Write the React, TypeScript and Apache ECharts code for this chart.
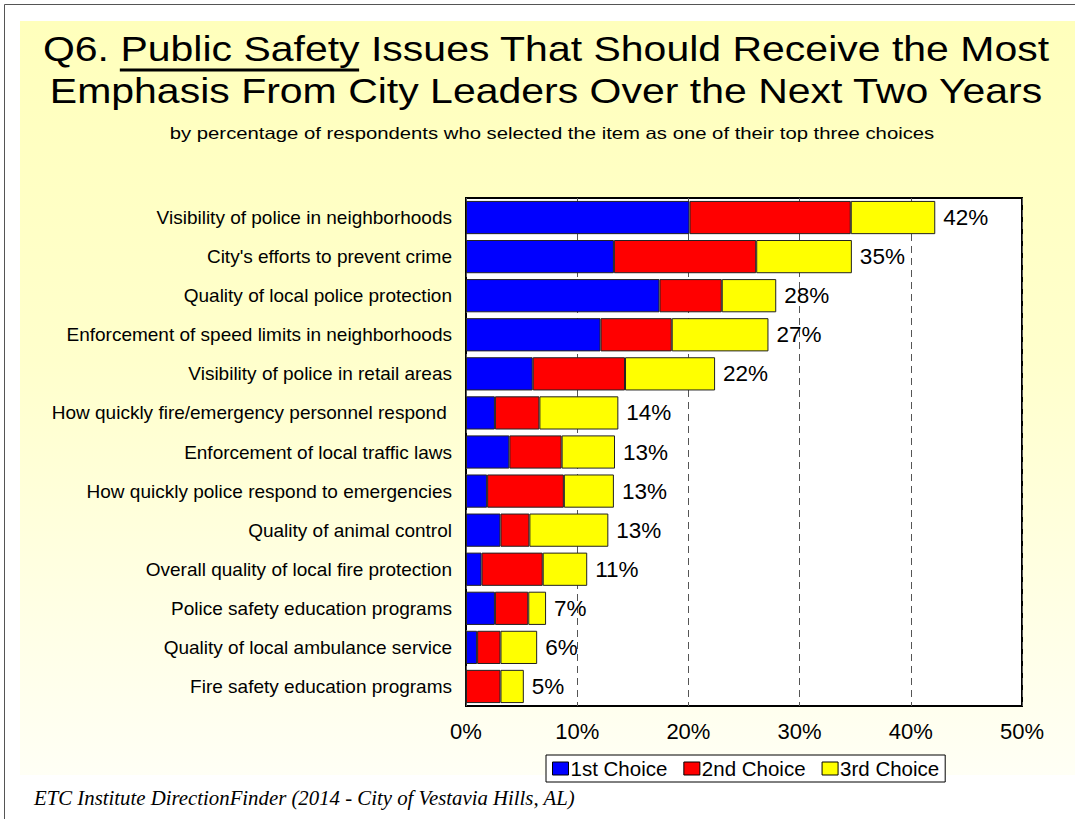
import React, { useEffect, useRef } from "react";
import * as echarts from "echarts";

const categories = [
  "Visibility of police in neighborhoods",
  "City's efforts to prevent crime",
  "Quality of local police protection",
  "Enforcement of speed limits in neighborhoods",
  "Visibility of police in retail areas",
  "How quickly fire/emergency personnel respond ",
  "Enforcement of local traffic laws",
  "How quickly police respond to emergencies",
  "Quality of animal control",
  "Overall quality of local fire protection",
  "Police safety education programs",
  "Quality of local ambulance service",
  "Fire safety education programs",
];
const firstChoice = [20.1, 13.3, 17.4, 12.1, 6.0, 2.6, 3.9, 1.9, 3.1, 1.4, 2.6, 1.0, 0];
const secondChoice = [14.5, 12.8, 5.6, 6.4, 8.3, 4.0, 4.7, 6.9, 2.6, 5.5, 3.0, 2.1, 3.1];
const thirdChoice = [7.6, 8.6, 4.9, 8.7, 8.1, 7.1, 4.8, 4.5, 7.1, 4.0, 1.6, 3.3, 2.1];
const totalLabels = ["42%", "35%", "28%", "27%", "22%", "14%", "13%", "13%", "13%", "11%", "7%", "6%", "5%"];
const seriesNames = ["1st Choice", "2nd Choice", "3rd Choice"];
const seriesColors = ["#0000FF", "#FF0000", "#FFFF00"];

const titlePrefix = "Q6. ";
const titleUnderlined = "Public Safety";
const titleRest = " Issues That Should Receive the Most";
const titleLine2 = "Emphasis From City Leaders Over the Next Two Years";
const subtitle = "by percentage of respondents who selected the item as one of their top three choices";
const footnote = "ETC Institute DirectionFinder (2014 - City of Vestavia Hills, AL)";

const SANS = '"Liberation Sans", Arial, sans-serif';

function measure(text: string, font: string): number {
  const c = document.createElement("canvas");
  const ctx = c.getContext("2d");
  if (!ctx) return text.length * 20;
  ctx.font = font;
  return ctx.measureText(text).width;
}

export default function App() {
  const ref = useRef<HTMLDivElement>(null);
  useEffect(() => {
    document.body.style.margin = "0";
    if (!ref.current) return;
    const chart = echarts.init(ref.current, undefined, { renderer: "svg" });

    const tSize = 35;
    const tScale = 41 / 35;
    const tFont = `${tSize}px "Liberation Sans"`;
    const full = titlePrefix + titleUnderlined + titleRest;
    const fullW = measure(full, tFont) * tScale;
    const preW = measure(titlePrefix, tFont) * tScale;
    const ulW = measure(titleUnderlined, tFont) * tScale;
    const tCenter = 546;
    const x0 = tCenter - fullW / 2;

    const datas = [firstChoice, secondChoice, thirdChoice];

    const option: any = {
      animation: false,
      backgroundColor: "#FFFFFF",
      graphic: [
        {
          type: "rect",
          z: -20,
          silent: true,
          shape: { x: 20, y: 21, width: 1060, height: 754 },
          style: {
            fill: new echarts.graphic.LinearGradient(0, 0, 0, 1, [
              { offset: 0, color: "#FFFFBC" },
              { offset: 0.45, color: "#FFFFCC" },
              { offset: 1, color: "#FFFFF5" },
            ]),
          },
        },
        {
          type: "rect",
          z: -19,
          silent: true,
          shape: { x: 4.5, y: 4.5, width: 1090, height: 840 },
          style: { fill: "none", stroke: "#555", lineWidth: 1 },
        },
        {
          type: "text",
          x: tCenter,
          y: 49.5,
          scaleX: tScale,
          style: {
            text: full,
            font: `${tSize}px ${SANS}`,
            fill: "#000",
            align: "center",
            verticalAlign: "middle",
          },
        },
        {
          type: "line",
          shape: { x1: x0 + preW, y1: 70, x2: x0 + preW + ulW, y2: 70 },
          style: { stroke: "#000", lineWidth: 3 },
        },
        {
          type: "text",
          x: tCenter,
          y: 91,
          scaleX: tScale,
          style: {
            text: titleLine2,
            font: `${tSize}px ${SANS}`,
            fill: "#000",
            align: "center",
            verticalAlign: "middle",
          },
        },
        {
          type: "text",
          x: 552,
          y: 133,
          scaleX: 1.23,
          style: {
            text: subtitle,
            font: `16.5px ${SANS}`,
            fill: "#000",
            align: "center",
            verticalAlign: "middle",
          },
        },
        {
          type: "text",
          x: 34,
          y: 797,
          style: {
            text: footnote,
            font: `italic 20.8px "Liberation Serif", "Times New Roman", serif`,
            fill: "#000",
            align: "left",
            verticalAlign: "middle",
          },
        },
      ],
      legend: {
        data: seriesNames,
        left: 546,
        top: 755,
        orient: "horizontal",
        itemWidth: 16,
        itemHeight: 13,
        itemGap: 16,
        padding: [3, 6, 3, 6],
        backgroundColor: "#FFFFFF",
        borderColor: "#000",
        borderWidth: 1,
        borderRadius: 0,
        icon: "rect",
        itemStyle: { borderColor: "#000", borderWidth: 1 },
        textStyle: { fontFamily: SANS, fontSize: 20.5, color: "#000", padding: [0, 0, 0, -3] },
        selectedMode: false,
      },
      grid: {
        left: 466,
        top: 198,
        width: 556,
        height: 508,
        show: true,
        backgroundColor: "#FFFFFF",
        borderColor: "#000",
        borderWidth: 2,
        containLabel: false,
      },
      xAxis: {
        type: "value",
        min: 0,
        max: 50,
        interval: 10,
        axisLine: { show: false },
        axisTick: { show: false },
        axisLabel: {
          formatter: "{value}%",
          fontFamily: SANS,
          fontSize: 22,
          color: "#000",
          margin: 14,
        },
        splitLine: {
          show: true,
          lineStyle: { color: "#555", type: [7, 5], width: 1 },
        },
      },
      yAxis: {
        type: "category",
        data: categories,
        inverse: true,
        axisLine: { show: false },
        axisTick: { show: false },
        axisLabel: {
          fontFamily: SANS,
          fontSize: 19,
          color: "#000",
          margin: 14,
        },
      },
      series: datas.map((d, i) => ({
        name: seriesNames[i],
        type: "bar",
        stack: "total",
        data: d,
        barCategoryGap: "15%",
        itemStyle: { color: seriesColors[i], borderColor: "#222", borderWidth: 1 },
        label:
          i === 2
            ? {
                show: true,
                position: "right",
                distance: 8,
                formatter: (p: any) => totalLabels[p.dataIndex],
                fontFamily: SANS,
                fontSize: 22.5,
                color: "#000",
              }
            : { show: false },
      })),
    };
    chart.setOption(option);
    return () => chart.dispose();
  }, []);
  return <div ref={ref} style={{ width: 1075, height: 819 }} />;
}
